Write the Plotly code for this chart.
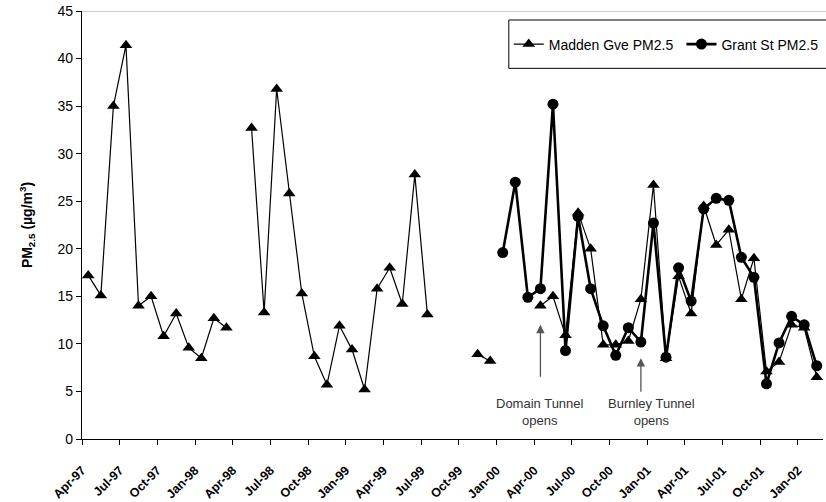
import plotly.graph_objects as go

# Monthly categories, Apr-1997 to Feb-2002
months = ["Apr-97", "May-97", "Jun-97", "Jul-97", "Aug-97", "Sep-97", "Oct-97", "Nov-97", "Dec-97",
          "Jan-98", "Feb-98", "Mar-98", "Apr-98", "May-98", "Jun-98", "Jul-98", "Aug-98", "Sep-98",
          "Oct-98", "Nov-98", "Dec-98", "Jan-99", "Feb-99", "Mar-99", "Apr-99", "May-99", "Jun-99",
          "Jul-99", "Aug-99", "Sep-99", "Oct-99", "Nov-99", "Dec-99", "Jan-00", "Feb-00", "Mar-00",
          "Apr-00", "May-00", "Jun-00", "Jul-00", "Aug-00", "Sep-00", "Oct-00", "Nov-00", "Dec-00",
          "Jan-01", "Feb-01", "Mar-01", "Apr-01", "May-01", "Jun-01", "Jul-01", "Aug-01", "Sep-01",
          "Oct-01", "Nov-01", "Dec-01", "Jan-02", "Feb-02"]

# Monthly mean PM2.5 (ug/m3); None = no data for that month
madden_gve = [17.2, 15.1, 35.0, 41.4, 14.0, 15.0, 10.8, 13.2, 9.6,
              8.5, 12.7, 11.7, None, 32.7, 13.3, 36.8, 25.8, 15.3,
              8.7, 5.7, 11.9, 9.4, 5.2, 15.8, 18.0, 14.2, 27.8,
              13.1, None, None, None, 8.9, 8.2, None, None, None,
              14.0, 15.0, 10.9, 23.8, 20.0, 9.9, 9.9, 10.3, 14.7,
              26.7, 8.5, 17.1, 13.2, 24.5, 20.4, 22.0, 14.7, 19.0,
              7.1, 8.1, 12.0, 11.7, 6.5]

grant_st = [None] * 33 + [19.6, 27.0, 14.9,
            15.8, 35.2, 9.3, 23.4, 15.8, 11.9, 8.8, 11.7, 10.2,
            22.7, 8.6, 18.0, 14.5, 24.2, 25.3, 25.1, 19.1, 17.0,
            5.8, 10.1, 12.9, 12.0, 7.7]

# Quarterly axis labels
tick_labels = ["Apr-97", "Jul-97", "Oct-97", "Jan-98", "Apr-98", "Jul-98", "Oct-98", "Jan-99",
               "Apr-99", "Jul-99", "Oct-99", "Jan-00", "Apr-00", "Jul-00", "Oct-00", "Jan-01",
               "Apr-01", "Jul-01", "Oct-01", "Jan-02"]

# Event markers: (month, label lines)
events = [("Apr-00", "Domain Tunnel", "opens"), ("Dec-00", "Burnley Tunnel", "opens")]

FONT = "Liberation Sans, Arial, sans-serif"
idx = list(range(len(months)))
tick_pos = [months.index(t) - 0.5 for t in tick_labels]

fig = go.Figure()
fig.add_trace(go.Scatter(
    x=idx, y=madden_gve, mode="lines+markers", name="Madden Gve PM2.5",
    line=dict(color="black", width=1.2),
    marker=dict(symbol="triangle-up", size=11, color="black"),
    connectgaps=False, legend="legend", showlegend=True, customdata=months,
))
fig.add_trace(go.Scatter(
    x=idx, y=grant_st, mode="lines+markers", name="Grant St PM2.5",
    line=dict(color="black", width=2.6),
    marker=dict(symbol="circle", size=11, color="black"),
    connectgaps=False, legend="legend2", showlegend=True, customdata=months,
))

annotations = []
arrow_ranges = {"Apr-00": (6.4, 12.0), "Dec-00": (4.8, 8.5)}
text_shift = {"Apr-00": 0.0, "Dec-00": 0.85}
for m, line1, line2 in events:
    xi = months.index(m)
    tail, tip = arrow_ranges[m]
    annotations.append(dict(
        x=xi, y=tip, ax=xi, ay=tail, xref="x", yref="y", axref="x", ayref="y",
        text="", showarrow=True, arrowhead=2, arrowsize=1.3, arrowwidth=1.3,
        arrowcolor="#555555",
    ))
    annotations.append(dict(
        x=xi + text_shift[m], y=2.8, xref="x", yref="y", showarrow=False,
        text=line1 + "<br>" + line2, align="center",
        font=dict(family=FONT, size=13, color="#333333"),
    ))

legend_style = dict(
    xref="container", yref="container", xanchor="left", yanchor="middle",
    orientation="h", bgcolor="rgba(0,0,0,0)", borderwidth=0,
    font=dict(family=FONT, size=14, color="black"),
)

fig.update_layout(
    width=826, height=502,
    margin=dict(l=82, r=3, t=11, b=63, autoexpand=False),
    paper_bgcolor="white", plot_bgcolor="white",
    font=dict(family=FONT, color="black"),
    showlegend=True,
    annotations=annotations,
    shapes=[
        dict(type="line", xref="paper", yref="y", x0=0, x1=1.01, y0=45, y1=45,
             line=dict(color="#999999", width=1.2)),
        dict(type="rect", xref="paper", yref="paper", x0=0.576, x1=1.02, y0=0.866, y1=0.979,
             line=dict(color="black", width=1), fillcolor="white", layer="below"),
    ],
    legend=dict(x=0.6159, y=0.9114, **legend_style),
    legend2=dict(x=0.8250, y=0.9114, **legend_style),
    xaxis=dict(
        range=[-0.5, len(months) - 0.5], tickmode="array", tickvals=tick_pos,
        ticktext=tick_labels, tickangle=-45, ticks="outside", ticklen=5,
        ticklabelstandoff=13,
        tickcolor="black", showline=True, linecolor="black", linewidth=1.2,
        showgrid=False, zeroline=False,
        tickfont=dict(family=FONT, size=12.5, color="black", weight="bold"),
    ),
    yaxis=dict(
        range=[0, 45], tickvals=list(range(0, 46, 5)), ticks="outside", ticklen=5,
        tickcolor="black", showline=True, linecolor="black", linewidth=1.2,
        showgrid=False, zeroline=False,
        tickfont=dict(family=FONT, size=14, color="black"),
        title=dict(text="<b>PM<sub>2.5</sub> (µg/m<sup>3</sup>)</b>",
                   font=dict(family=FONT, size=14, color="black"), standoff=21),
    ),
)

fig.write_html("out.html")
